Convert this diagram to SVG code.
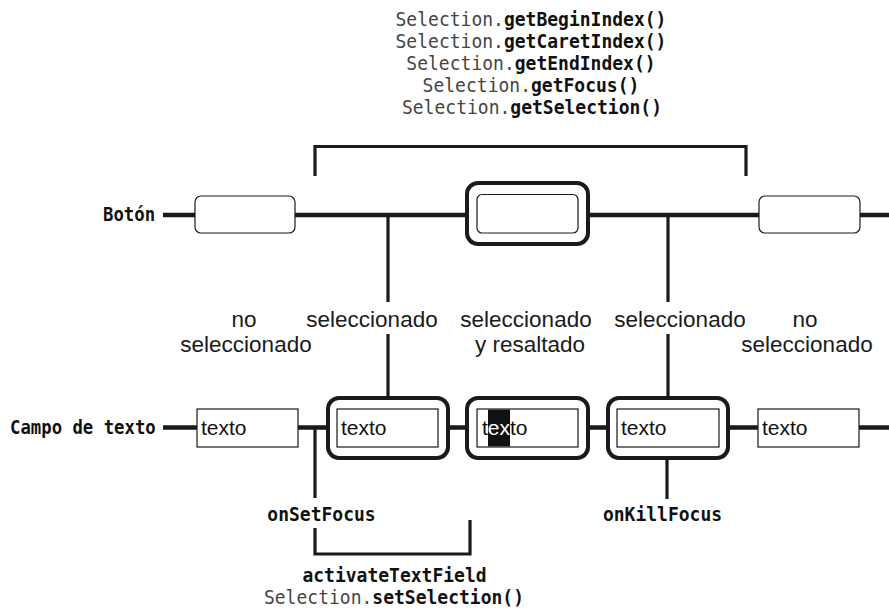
<svg xmlns="http://www.w3.org/2000/svg" width="889" height="610" viewBox="0 0 889 610">
  <style>
    .mono { font-family: "DejaVu Sans Mono", "Liberation Mono", monospace; font-size: 18px; fill: #1a1a1a; }
    .row { font-size: 17.3px; }
    .light { font-weight: normal; fill: #444; }
    .bold { font-weight: bold; fill: #111; }
    .sans { font-family: "Liberation Sans", Arial, sans-serif; font-size: 22.5px; fill: #1a1a1a; text-anchor: middle; }
    .val { font-family: "Liberation Sans", Arial, sans-serif; font-size: 21px; fill: #111; }
    .main { stroke: #1a1a1a; stroke-width: 4.5; fill: none; }
    .link { stroke: #1a1a1a; stroke-width: 3.2; fill: none; }
    .thin { stroke: #1a1a1a; stroke-width: 1.2; fill: #fff; }
    .outer { stroke: #1a1a1a; stroke-width: 4; fill: #fff; }
  </style>

  <!-- Selection queries available while focus is held (mono text stretched 12% tall about its baseline) -->
  <g id="selection-getters" class="mono" text-anchor="middle">
    <text x="531" y="26" transform="matrix(1 0 0 1.12 0 -3.12)"><tspan class="light">Selection.</tspan><tspan class="bold">getBeginIndex()</tspan></text>
    <text x="531" y="48" transform="matrix(1 0 0 1.12 0 -5.76)"><tspan class="light">Selection.</tspan><tspan class="bold">getCaretIndex()</tspan></text>
    <text x="531" y="70" transform="matrix(1 0 0 1.12 0 -8.4)"><tspan class="light">Selection.</tspan><tspan class="bold">getEndIndex()</tspan></text>
    <text x="531" y="92" transform="matrix(1 0 0 1.12 0 -11.04)"><tspan class="light">Selection.</tspan><tspan class="bold">getFocus()</tspan></text>
    <text x="532" y="114" transform="matrix(1 0 0 1.12 0 -13.68)"><tspan class="light">Selection.</tspan><tspan class="bold">getSelection()</tspan></text>
  </g>

  <!-- Connectors -->
  <g id="connectors">
    <!-- bracket under the getters -->
    <path class="link" d="M315,176 V146.5 H746 V176"/>
    <!-- button timeline -->
    <line class="main" x1="163" y1="215" x2="195" y2="215"/>
    <line class="main" x1="295" y1="215" x2="467" y2="215"/>
    <line class="main" x1="588" y1="215" x2="759" y2="215"/>
    <line class="main" x1="860" y1="215" x2="889" y2="215"/>
    <!-- text field timeline -->
    <line class="main" x1="163" y1="427.5" x2="197" y2="427.5"/>
    <line class="main" x1="298" y1="427.5" x2="328" y2="427.5"/>
    <line class="main" x1="448" y1="427.5" x2="467" y2="427.5"/>
    <line class="main" x1="588" y1="427.5" x2="608" y2="427.5"/>
    <line class="main" x1="728" y1="427.5" x2="758" y2="427.5"/>
    <line class="main" x1="859" y1="427.5" x2="889" y2="427.5"/>
    <!-- transitions between the two timelines -->
    <line class="link" x1="388" y1="215" x2="388" y2="302"/>
    <line class="link" x1="388" y1="334" x2="388" y2="398"/>
    <line class="link" x1="668" y1="215" x2="668" y2="302"/>
    <line class="link" x1="668" y1="334" x2="668" y2="398"/>
    <!-- events -->
    <line class="link" x1="315" y1="427.5" x2="315" y2="498"/>
    <line class="link" x1="667" y1="458" x2="667" y2="499"/>
    <path class="link" d="M315,528 V554 H470 V520"/>
  </g>

  <!-- Row labels -->
  <g id="label-boton">
    <text class="mono row bold" x="103" y="221" transform="matrix(1 0 0 1.12 0 -26.52)">Botón</text>
  </g>
  <g id="label-campo">
    <text class="mono row bold" x="10" y="434" transform="matrix(1 0 0 1.12 0 -52.08)">Campo de texto</text>
  </g>

  <!-- Button states -->
  <g id="boton-1">
    <rect class="thin" x="195" y="196" width="100" height="37" rx="6"/>
  </g>
  <g id="boton-2">
    <rect class="outer" x="467" y="183" width="121" height="61" rx="11"/>
    <rect class="thin" x="477" y="194.5" width="101" height="38.5" rx="5"/>
  </g>
  <g id="boton-3">
    <rect class="thin" x="759" y="196" width="101" height="37" rx="6"/>
  </g>

  <!-- State captions -->
  <g id="state-labels" class="sans">
    <text x="244" y="327">no</text>
    <text x="246" y="352">seleccionado</text>
    <text x="372" y="327">seleccionado</text>
    <text x="526" y="327">seleccionado</text>
    <text x="530" y="352">y resaltado</text>
    <text x="680" y="327">seleccionado</text>
    <text x="805" y="327">no</text>
    <text x="807" y="352">seleccionado</text>
  </g>

  <!-- Text field states -->
  <g id="campo-1">
    <rect class="thin" x="197" y="409" width="101" height="38"/>
    <text class="val" x="201" y="435">texto</text>
  </g>
  <g id="campo-2">
    <rect class="outer" x="328" y="398" width="120" height="60" rx="11"/>
    <rect class="thin" x="337" y="409" width="101" height="38"/>
    <text class="val" x="341" y="435">texto</text>
  </g>
  <g id="campo-3">
    <rect class="outer" x="467" y="398" width="121" height="60" rx="11"/>
    <rect class="thin" x="477" y="409" width="101" height="38"/>
    <rect x="488" y="409.6" width="22" height="36.8" fill="#111"/>
    <text class="val" x="482" y="435">t<tspan fill="#fff">ex</tspan>to</text>
  </g>
  <g id="campo-4">
    <rect class="outer" x="608" y="398" width="120" height="60" rx="11"/>
    <rect class="thin" x="617" y="409" width="102" height="38"/>
    <text class="val" x="621" y="435">texto</text>
  </g>
  <g id="campo-5">
    <rect class="thin" x="758" y="409" width="101" height="38"/>
    <text class="val" x="762" y="435">texto</text>
  </g>

  <!-- Event names -->
  <g id="events" class="mono bold" text-anchor="middle">
    <text x="321.5" y="521" transform="matrix(1 0 0 1.12 0 -62.52)">onSetFocus</text>
    <text x="662.5" y="521" transform="matrix(1 0 0 1.12 0 -62.52)">onKillFocus</text>
    <text x="394.5" y="582" transform="matrix(1 0 0 1.12 0 -69.84)">activateTextField</text>
  </g>
  <g id="set-selection" class="mono" text-anchor="middle">
    <text x="394" y="604" transform="matrix(1 0 0 1.12 0 -72.48)"><tspan class="light">Selection.</tspan><tspan class="bold">setSelection()</tspan></text>
  </g>
</svg>
